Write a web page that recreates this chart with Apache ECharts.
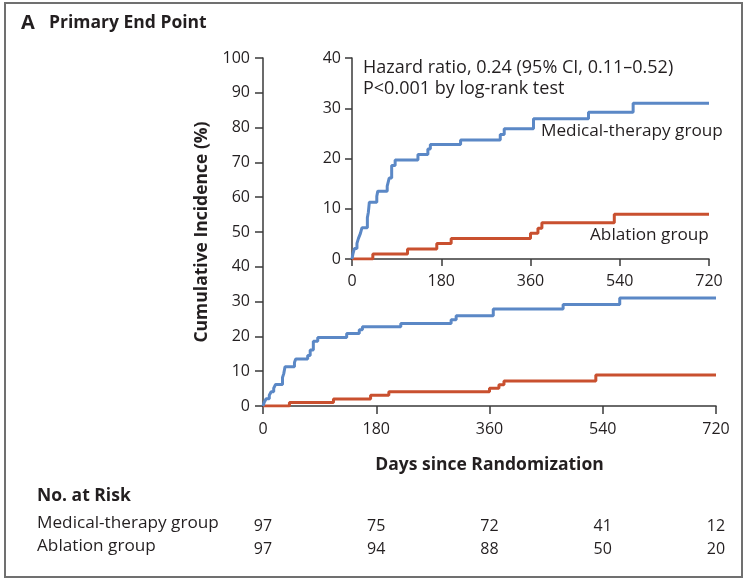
<!DOCTYPE html>
<html>
<head>
<meta charset="utf-8">
<title>Primary End Point</title>
<script src="https://cdn.jsdelivr.net/npm/echarts@6/dist/echarts.min.js"></script>
<style>
  html, body { margin: 0; padding: 0; background: #fff; }
  #main { width: 746px; height: 580px; }
</style>
</head>
<body>
<div id="main"></div>
<script>
// step points: day where the curve jumps, and the value from then on
var medDays = [0, 2, 5, 10, 13, 17, 20, 31, 33, 35, 50, 52, 71, 75, 80, 87, 133, 153, 158, 219, 299, 307, 366, 477, 567, 720];
var medRisk = [0, 1.1, 2.1, 3.1, 4.1, 5.1, 6.2, 8.2, 9.3, 11.3, 12.5, 13.5, 14.5, 16.1, 18.6, 19.7, 20.8, 21.9, 22.8, 23.7, 24.8, 25.9, 27.9, 29.2, 31.0, 31.0];
var ablDays = [0, 42, 112, 171, 200, 360, 375, 383, 529, 720];
var ablRisk = [0, 1.0, 2.0, 3.1, 4.1, 5.1, 6.1, 7.2, 8.9, 8.9];

var dayTicks = [0, 180, 360, 540, 720];
var medAtRisk = [97, 75, 72, 41, 12];
var ablAtRisk = [97, 94, 88, 50, 20];

var blue = '#5b88c6';
var red = '#c9502f';
var ink = '#231f20';
var axisCol = '#3a3a3a';
var font = 'Open Sans';

function pairs(xs, ys) {
  var out = [];
  for (var i = 0; i < xs.length; i++) out.push([xs[i], ys[i]]);
  return out;
}

function riskAxis(rows, offset) {
  return {
    type: 'value', gridIndex: 0, position: 'bottom', offset: offset,
    min: 0, max: 720, interval: 180,
    axisLine: { show: false }, axisTick: { show: false }, splitLine: { show: false },
    axisLabel: {
      margin: 0, color: ink, fontFamily: font, fontSize: 16, showMaxLabel: true,
      formatter: function (v) { return rows[dayTicks.indexOf(v)]; }
    }
  };
}

var chart = echarts.init(document.getElementById('main'));

chart.setOption({
  animation: false,
  backgroundColor: '#fff',
  grid: [
    { left: 263, top: 58, width: 453, height: 348 },
    { left: 352, top: 58, width: 357, height: 201 }
  ],
  xAxis: [
    {
      type: 'value', gridIndex: 0, min: 0, max: 720, interval: 180,
      name: 'Days since Randomization', nameLocation: 'middle', nameGap: 50,
      nameTextStyle: { color: ink, fontFamily: font, fontSize: 17.5, fontWeight: 'bold' },
      axisLine: { lineStyle: { color: axisCol, width: 1.5 } },
      axisTick: { length: 8, lineStyle: { color: axisCol, width: 1.5 } },
      axisLabel: { margin: 15, color: ink, fontFamily: font, fontSize: 16, showMaxLabel: true },
      splitLine: { show: false }
    },
    {
      type: 'value', gridIndex: 1, min: 0, max: 720, interval: 180,
      axisLine: { lineStyle: { color: axisCol, width: 1.5 } },
      axisTick: { length: 7, lineStyle: { color: axisCol, width: 1.5 } },
      axisLabel: { margin: 14, color: ink, fontFamily: font, fontSize: 16, showMaxLabel: true },
      splitLine: { show: false }
    },
    riskAxis(medAtRisk, 112),
    riskAxis(ablAtRisk, 135)
  ],
  yAxis: [
    {
      type: 'value', gridIndex: 0, min: 0, max: 100, interval: 10,
      name: 'Cumulative Incidence (%)', nameLocation: 'middle', nameGap: 52,
      nameTextStyle: { color: ink, fontFamily: font, fontSize: 17.5, fontWeight: 'bold' },
      axisLine: { show: true, lineStyle: { color: axisCol, width: 1.5 } },
      axisTick: { show: true, length: 8, lineStyle: { color: axisCol, width: 1.5 } },
      axisLabel: { margin: 13, color: ink, fontFamily: font, fontSize: 16 },
      splitLine: { show: false }
    },
    {
      type: 'value', gridIndex: 1, min: 0, max: 40, interval: 10,
      axisLine: { show: true, lineStyle: { color: axisCol, width: 1.5 } },
      axisTick: { show: true, length: 7, lineStyle: { color: axisCol, width: 1.5 } },
      axisLabel: { margin: 11, color: ink, fontFamily: font, fontSize: 16 },
      splitLine: { show: false }
    }
  ],
  series: [
    { type: 'line', step: 'end', xAxisIndex: 0, yAxisIndex: 0, data: pairs(ablDays, ablRisk),
      symbol: 'none', lineStyle: { color: red, width: 3 } },
    { type: 'line', step: 'end', xAxisIndex: 0, yAxisIndex: 0, data: pairs(medDays, medRisk),
      symbol: 'none', lineStyle: { color: blue, width: 3 } },
    { type: 'line', step: 'end', xAxisIndex: 1, yAxisIndex: 1, data: pairs(ablDays, ablRisk),
      symbol: 'none', lineStyle: { color: red, width: 3 } },
    { type: 'line', step: 'end', xAxisIndex: 1, yAxisIndex: 1, data: pairs(medDays, medRisk),
      symbol: 'none', lineStyle: { color: blue, width: 3 } }
  ],
  graphic: [
    { type: 'rect', shape: { x: 5, y: 3, width: 737, height: 574 },
      style: { fill: 'none', stroke: '#707070', lineWidth: 2 }, silent: true },
    { type: 'text', left: 21, top: 13,
      style: { text: 'A', fill: ink, font: 'bold 20px "Open Sans"' } },
    { type: 'text', left: 49, top: 14,
      style: { text: 'Primary End Point', fill: ink, font: 'bold 17.5px "Open Sans"' } },
    { type: 'text', left: 363, top: 59,
      style: { text: 'Hazard ratio, 0.24 (95% CI, 0.11\u20130.52)', fill: ink, font: '18px "Open Sans"' } },
    { type: 'text', left: 363, top: 80,
      style: { text: 'P<0.001 by log-rank test', fill: ink, font: '18px "Open Sans"' } },
    { type: 'text', left: 541, top: 123,
      style: { text: 'Medical-therapy group', fill: ink, font: '17.2px "Open Sans"' } },
    { type: 'text', left: 590, top: 227,
      style: { text: 'Ablation group', fill: ink, font: '17.2px "Open Sans"' } },
    { type: 'text', left: 37, top: 487,
      style: { text: 'No. at Risk', fill: ink, font: 'bold 17.5px "Open Sans"' } },
    { type: 'text', left: 37, top: 515,
      style: { text: 'Medical-therapy group', fill: ink, font: '17.2px "Open Sans"' } },
    { type: 'text', left: 37, top: 538,
      style: { text: 'Ablation group', fill: ink, font: '17.2px "Open Sans"' } }
  ]
});
</script>
</body>
</html>
